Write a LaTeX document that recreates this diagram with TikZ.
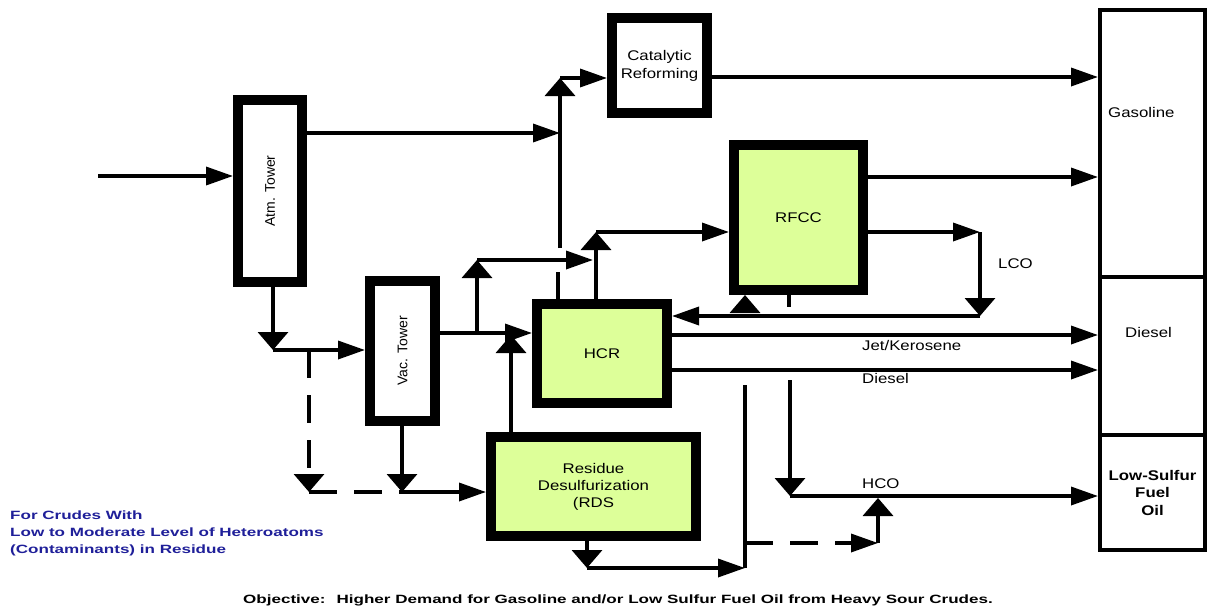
\documentclass[tikz,border=0pt]{standalone}
\usepackage{fontspec}
\setmainfont{Liberation Sans}[FakeStretch=1.2]
\newfontfamily\notefont{Liberation Sans}[FakeStretch=1.42]
\newfontfamily\towerfont{Liberation Sans}
\usepackage{tikz}
\usetikzlibrary{arrows.meta}
\definecolor{procgreen}{HTML}{DDFF99}
\definecolor{notenavy}{HTML}{1F1F99}

\begin{document}
\begin{tikzpicture}[
  x=1pt, y=-1pt,
  font=\fontsize{14}{17}\selectfont,
  tower/.style={draw, line width=10pt, outer sep=5pt, inner sep=0pt, fill=white},
  unit/.style={tower, fill=procgreen, align=center},
  product/.style={draw, line width=4pt, outer sep=2pt, inner sep=0pt, minimum width=105pt, align=center},
  flow/.style={line width=3.5pt},
  harrow/.style={flow, -{Triangle[length=27pt, width=18pt]}},
  varrow/.style={flow, -{Triangle[length=18pt, width=30pt]}},
  bypass/.style={dash pattern=on 28pt off 17pt},
  tag/.style={anchor=base west, inner sep=0pt},
  note/.style={inner sep=0pt, text=notenavy, font=\notefont\bfseries\fontsize{12}{17}\selectfont}
]
\useasboundingbox (0,0) rectangle (1207,613);

% process units
\node[tower, minimum width=64pt, minimum height=182pt] (atm) at (270,191) {\rotatebox{90}{\towerfont Atm. Tower}};
\node[tower, minimum width=65pt, minimum height=140pt] (vac) at (402.5,351) {\rotatebox{90}{\towerfont Vac. Tower}};
\node[tower, minimum width=95pt, minimum height=95pt, align=center, font=\fontsize{14}{18}\selectfont] (cat) at (659.5,65.5) {Catalytic\\Reforming};
\node[unit, minimum width=129pt, minimum height=145pt] (rfcc) at (798.5,217.5) {RFCC};
\node[unit, minimum width=130pt, minimum height=99pt] (hcr) at (602,353.5) {HCR};
\node[unit, minimum width=205pt, minimum height=99pt] (rds) at (593.5,486.5) {Residue\\Desulfurization\\(RDS};

% product pools
\node[product, minimum height=267pt] (gas) at (1152.5,143.5) {};
\node[product, minimum height=158pt] (dsl) at (1152.5,356) {};
\node[product, minimum height=115pt, font=\bfseries\fontsize{14}{17.5}\selectfont] (lsfo) at (1152.5,492.5) {Low-Sulfur\\Fuel\\Oil};
\node[tag] (gaslbl) at (1108,117) {Gasoline};
\node[tag] (dsllbl) at (1125,337) {Diesel};

\coordinate (feed) at (98,176);
\coordinate (naphtha) at (560,133);
\coordinate (riserlow) at (560,248);
\coordinate (risertop) at (560,78);
\coordinate (reformate) at (900,77);
\coordinate (fccgas) at (950,177);
\coordinate (lco) at (980,232);
\coordinate (lcoback) at (980,316);
\coordinate (vgo) at (477,333);
\coordinate (vgoup) at (477,260);
\coordinate (vgotip) at (593,260);
\coordinate (hcrstub) at (558,272);
\coordinate (hcrup) at (596,232);
\coordinate (atmres) at (273,350);
\coordinate (bypasstop) at (309,350);
\coordinate (bypassbot) at (309,492);
\coordinate (vacres) at (402,492);
\coordinate (rdsup) at (511,335);
\coordinate (rdsdown) at (587,568);
\coordinate (fuelcol) at (745,568);
\coordinate (fueltop) at (745,385);
\coordinate (fueltap) at (745,543);
\coordinate (hcotap) at (878,543);
\coordinate (hcotip) at (878,498);
\coordinate (hcotop) at (790,380);
\coordinate (hco) at (790,496);
\coordinate (fccfeed) at (745,312);
\coordinate (fccstub) at (789,307);
\coordinate (jet) at (900,335);
\coordinate (hcrdsl) at (900,370);

\draw[harrow] (feed) -- (feed -| atm.west);
\draw[harrow] (naphtha -| atm.east) -- (naphtha);
\draw[varrow] (riserlow) -- (risertop);
\draw[harrow] (risertop) -- (risertop -| cat.west);
\draw[harrow] (reformate -| cat.east) -- (reformate -| gas.west);
\draw[harrow] (fccgas -| rfcc.east) -- (fccgas -| gas.west);
\draw[harrow] (lco -| rfcc.east) -- (lco);
\draw[varrow] (lco) -- (lcoback);
\draw[harrow] (lcoback) -- (lcoback -| hcr.east);
\node[tag] (lcolbl) at (998,268) {LCO};

\draw[harrow] (vgo -| vac.east) -- (vgo -| hcr.west);
\draw[varrow] (vgo) -- (vgoup);
\draw[harrow] (vgoup) -- (vgotip);
\draw[flow] (hcrstub |- hcr.north) -- (hcrstub);
\draw[varrow] (hcrup |- hcr.north) -- (hcrup);
\draw[harrow] (hcrup) -- (hcrup -| rfcc.west);

\draw[varrow] (atmres |- atm.south) -- (atmres);
\draw[harrow] (atmres) -- (atmres -| vac.west);
\draw[varrow, bypass] (bypasstop) -- (bypassbot);
\draw[flow, bypass] (bypassbot) -- (vacres);
\draw[varrow] (vacres |- vac.south) -- (vacres);
\draw[harrow] (vacres) -- (vacres -| rds.west);

\draw[varrow] (rdsup |- rds.north) -- (rdsup);
\draw[varrow] (rdsdown |- rds.south) -- (rdsdown);
\draw[harrow] (rdsdown) -- (fuelcol);
\draw[flow] (fueltop) -- (fuelcol);
\draw[harrow, bypass] (fueltap) -- (hcotap);
\draw[varrow, bypass] (hcotap) -- (hcotip);
\draw[varrow] (hcotop) -- (hco);
\draw[harrow] (hco) -- (hco -| lsfo.west);
\node[tag] (hcolbl) at (862,488) {HCO};

\draw[varrow] (fccfeed) -- (fccfeed |- rfcc.south);
\draw[flow] (fccstub |- rfcc.south) -- (fccstub);

\draw[harrow] (jet -| hcr.east) -- (jet -| dsl.west);
\draw[harrow] (hcrdsl -| hcr.east) -- (hcrdsl -| dsl.west);
\node[tag] (jetlbl) at (862,350) {Jet/Kerosene};
\node[tag] (dsltag) at (862,383) {Diesel};

\node[note, anchor=north west, align=left] (crudenote) at (10,511) {For Crudes With\\Low to Moderate Level of Heteroatoms\\(Contaminants) in Residue};
\node[note, text=black, anchor=base west] (objective) at (243,603) {Objective:~ Higher Demand for Gasoline and/or Low Sulfur Fuel Oil from Heavy Sour Crudes.};
\end{tikzpicture}
\end{document}
